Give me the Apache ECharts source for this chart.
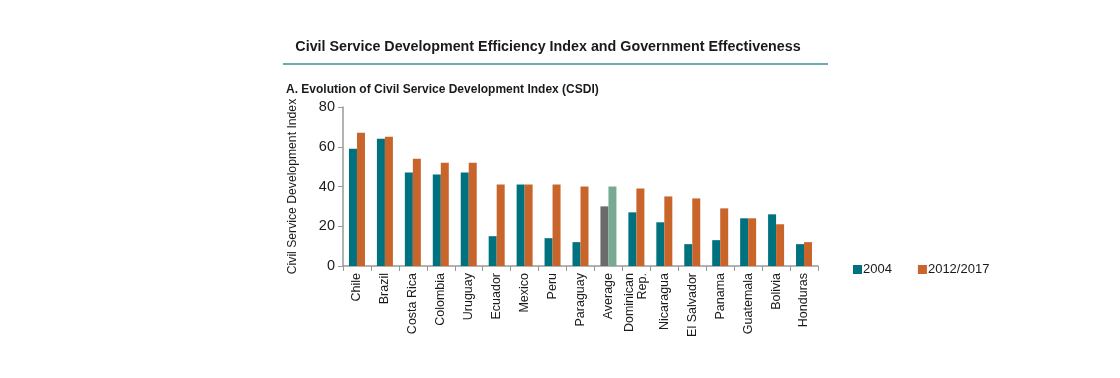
<!DOCTYPE html>
<html><head><meta charset="utf-8">
<script src="https://cdn.jsdelivr.net/npm/echarts@6/dist/echarts.min.js"></script>
<style>html,body{margin:0;padding:0;background:#fff}#c{width:1120px;height:378px}</style>
</head><body><div id="c"></div>
<script>
const categories = ["Chile","Brazil","Costa Rica","Colombia","Uruguay","Ecuador","Mexico","Peru","Paraguay","Average","Dominican\nRep.","Nicaragua","El Salvador","Panama","Guatemala","Bolivia","Honduras"];
const values2004 = [59,64,47,46,47,15,41,14,12,30,27,22,11,13,24,26,11];
const values2012 = [67,65,54,52,52,41,41,41,40,40,39,35,34,29,24,21,12];
const yTicks = [0,20,40,60,80];
const averageIndex = categories.indexOf("Average");

const FONT = '"Liberation Sans Narrow", "Arial Narrow", "Liberation Sans", Arial, sans-serif';
const TEAL = '#00717f', ORANGE = '#c9642b', GREY = '#6b6b6b', GREEN = '#78a993';

const d1 = values2004.map((v,i)=> i===averageIndex ? {value:v,itemStyle:{color:GREY}} : v);
const d2 = values2012.map((v,i)=> i===averageIndex ? {value:v,itemStyle:{color:GREEN}} : v);

const chart = echarts.init(document.getElementById('c'), null, {renderer:'canvas'});
chart.setOption({
  animation:false,
  textStyle:{fontFamily:FONT},
  title:[
    {text:'Civil Service Development Efficiency Index and Government Effectiveness', left:543, top:35, textAlign:'center',
     textStyle:{fontFamily:'"Liberation Sans", Arial, sans-serif', fontSize:14.3, fontWeight:'bold', color:'#1a1a1a'}},
    {text:'A. Evolution of Civil Service Development Index (CSDI)', left:281, top:79,
     textStyle:{fontFamily:FONT, fontSize:12, fontWeight:'bold', color:'#1a1a1a'}}
  ],
  graphic:[{type:'line', shape:{x1:283,y1:64,x2:828,y2:64}, style:{stroke:'#3a8fa0', lineWidth:1.5}}],
  legend:{
    left:853, top:263, padding:0, itemWidth:9, itemHeight:9, itemGap:26, icon:'rect',
    textStyle:{fontFamily:FONT, fontSize:13, color:'#1a1a1a', padding:[0,0,0,-4]},
    data:['2004','2012/2017']
  },
  grid:{left:343, right:302, top:107, bottom:112, containLabel:false},
  xAxis:{
    type:'category', data:categories,
    axisLine:{lineStyle:{color:'#999', width:1.5}},
    axisTick:{show:true, alignWithLabel:false, length:5, lineStyle:{color:'#999'}},
    axisLabel:{rotate:90, interval:0, fontFamily:FONT, fontSize:12.5, color:'#1a1a1a', margin:7, lineHeight:13, align:'right', verticalAlign:'middle'}
  },
  yAxis:{
    type:'value', min:0, max:80, interval:20,
    name:'Civil Service Development Index', nameLocation:'middle', nameGap:44, nameRotate:90,
    nameTextStyle:{fontFamily:FONT, fontSize:12.2, color:'#1a1a1a'},
    axisLine:{show:true, lineStyle:{color:'#999', width:1.5}},
    axisTick:{show:true, length:5, lineStyle:{color:'#999'}},
    splitLine:{show:false},
    axisLabel:{fontFamily:FONT, fontSize:14.5, color:'#1a1a1a', margin:8,
      formatter:(v)=> yTicks.includes(v) ? String(v) : ''}
  },
  series:[
    {name:'2004', type:'bar', data:d1, barWidth:8, barGap:'0%', itemStyle:{color:TEAL}},
    {name:'2012/2017', type:'bar', data:d2, barWidth:8, barGap:'0%', itemStyle:{color:ORANGE}}
  ]
});
</script></body></html>
